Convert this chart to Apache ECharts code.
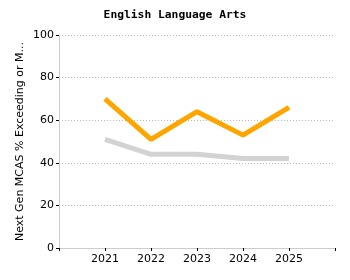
<!DOCTYPE html>
<html><head><meta charset="utf-8">
<script src="https://cdn.jsdelivr.net/npm/echarts@6/dist/echarts.min.js"></script>
<style>html,body{margin:0;padding:0;background:#fff}#c{width:350px;height:280px}</style>
</head><body><div id="c"></div>
<script>
var years = [2021, 2022, 2023, 2024, 2025];
var schoolValues = [70, 51, 64, 53, 66];
var stateValues = [51, 44, 44, 42, 42];
var yTicks = [0, 20, 40, 60, 80, 100];
var titleText = 'English Language Arts';
var yAxisName = 'Next Gen MCAS % Exceeding or M...';

var font = 'DejaVu Sans, Verdana, sans-serif';
var chart = echarts.init(document.getElementById('c'));
chart.setOption({
  animation: false,
  title: {text: titleText, left: 'center', top: 5,
    textStyle: {fontFamily: 'DejaVu Sans Mono, monospace', fontSize: 11.3, fontWeight: 'bold', color: '#000'}},
  grid: {left: 59, right: 15, top: 35, bottom: 32},
  xAxis: {
    type: 'value', min: years[0] - 1, max: years[years.length - 1] + 1, interval: 1,
    axisLine: {lineStyle: {color: '#ccc'}},
    axisTick: {show: true, length: 3, lineStyle: {color: '#000'}},
    splitLine: {show: false},
    axisLabel: {fontFamily: font, fontSize: 11, color: '#000', margin: 6,
      formatter: function (v) { return years.indexOf(v) >= 0 ? String(v) : ''; }}
  },
  yAxis: {
    type: 'value', min: yTicks[0], max: yTicks[yTicks.length - 1], interval: 20,
    name: yAxisName, nameLocation: 'middle', nameGap: 33, nameRotate: 90, nameMoveOverlap: false,
    nameTextStyle: {fontFamily: font, fontSize: 11, color: '#000'},
    axisLine: {show: true, lineStyle: {color: '#ccc'}},
    axisTick: {show: true, length: 3, lineStyle: {color: '#000'}},
    splitLine: {show: true, lineStyle: {color: '#bbb', type: [1, 2], width: 1}},
    axisLabel: {fontFamily: font, fontSize: 11, color: '#000', margin: 5}
  },
  series: [
    {type: 'line', data: years.map(function (y, i) { return [y, stateValues[i]]; }),
      symbol: 'none', lineStyle: {color: '#d3d3d3', width: 5}, z: 2},
    {type: 'line', data: years.map(function (y, i) { return [y, schoolValues[i]]; }),
      symbol: 'none', lineStyle: {color: '#ffa500', width: 5}, z: 3}
  ]
});
</script></body></html>
